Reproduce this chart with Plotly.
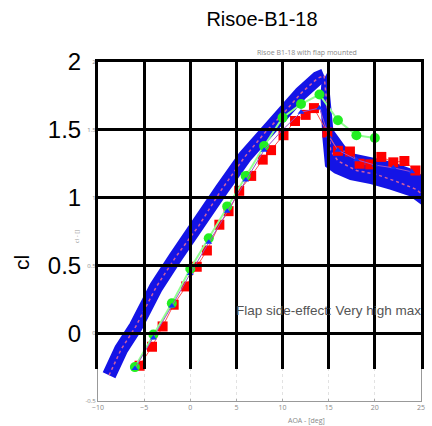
import plotly.graph_objects as go

# ---------------- data ----------------
# blue measurement band, centre of the attached-flow part
blue_aoa = [-8.8, -7.5, -5.9, -3.7, -1.6, 0.9, 3.4, 5.9, 8.1, 10.2, 12.0, 13.8, 14.5]
blue_cl = [-0.31, -0.12, 0.05, 0.34, 0.56, 0.79, 1.06, 1.30, 1.48, 1.63, 1.77, 1.88, 1.90]
# blue measurement band, outline of the stalled part
stall_aoa = [14.2, 14.9, 15.2, 15.5, 17.3, 19.5, 22.0, 24.5, 25.0,
             25.0, 23.8, 21.6, 19.5, 17.3, 15.6, 14.6, 14.3, 14.1]
stall_cl = [1.84, 1.93, 1.72, 1.50, 1.33, 1.30, 1.26, 1.20, 1.17,
            0.95, 1.01, 1.06, 1.10, 1.13, 1.18, 1.23, 1.45, 1.75]
# dotted mean curve through the band
mean_aoa = [-8.8, -7.5, -5.9, -3.7, -1.6, 0.9, 3.4, 5.9, 8.1, 10.2, 12.0, 13.8, 14.5,
            14.9, 15.2, 16.0, 18.0, 20.2, 22.3, 24.5, 25.0]
mean_cl = [-0.31, -0.12, 0.05, 0.34, 0.56, 0.79, 1.06, 1.30, 1.48, 1.63, 1.77, 1.88, 1.90,
           1.62, 1.35, 1.27, 1.20, 1.17, 1.12, 1.06, 1.03]
# red squares
red_aoa = [-5.5, -4.15, -3.0, -1.8, -0.45, 0.7, 1.8, 3.15, 4.15, 5.3, 6.6, 7.85, 8.75,
           10.1, 11.35, 12.5, 13.4, 14.85, 16.0, 17.3, 18.35, 19.5, 20.7, 22.0, 23.2, 24.4]
red_cl = [-0.24, -0.10, 0.05, 0.21, 0.345, 0.49, 0.61, 0.80, 0.90, 1.05, 1.16, 1.28, 1.35,
          1.46, 1.565, 1.61, 1.66, 1.48, 1.345, 1.34, 1.25, 1.245, 1.30, 1.26, 1.27, 1.20]
# green circles
green_aoa = [-6, -4, -2, 0, 2, 4, 6, 8, 10, 12, 14, 16, 18, 20]
green_cl = [-0.25, -0.01, 0.22, 0.475, 0.70, 0.935, 1.16, 1.38, 1.59, 1.69, 1.76, 1.57, 1.46, 1.44]
# blue triangles
tri_aoa = [-6, -4, -2, 0, 2, 4, 6, 8, 10, 12, 14, 15, 16, 18, 20, 22, 24]
tri_cl = [-0.26, -0.035, 0.20, 0.44, 0.67, 0.90, 1.13, 1.35, 1.50, 1.63, 1.66, 1.45,
          1.35, 1.28, 1.24, 1.22, 1.19]

x_ticks = [-10, -5, 0, 5, 10, 15, 20, 25]
y_ticks_inner = [-0.5, 0, 0.5, 1, 1.5, 2]
y_text_inner = ["-0.5", "0", "0.5", "1", "1.5", "2"]
y_ticks_outer = [0, 0.5, 1, 1.5, 2]
y_text_outer = ["0", "0.5", "1", "1.5", "2"]

FONT = "Liberation Sans, Arial, sans-serif"
BLUE = "rgb(20,20,230)"

fig = go.Figure()
fig.add_trace(go.Scatter(x=stall_aoa, y=stall_cl, mode="lines", fill="toself",
                         fillcolor=BLUE, line=dict(width=0, color=BLUE), hoverinfo="skip"))
fig.add_trace(go.Scatter(x=blue_aoa, y=blue_cl, mode="lines",
                         line=dict(color=BLUE, width=14), hoverinfo="skip"))
fig.add_trace(go.Scatter(x=mean_aoa, y=mean_cl, mode="lines",
                         line=dict(color="#d060a0", width=1.5, dash="dot")))
fig.add_trace(go.Scatter(x=red_aoa, y=red_cl, mode="lines+markers",
                         line=dict(color="#ff5050", width=1),
                         marker=dict(symbol="square", size=10, color="#ff0000")))
fig.add_trace(go.Scatter(x=green_aoa, y=green_cl, mode="lines+markers",
                         line=dict(color="#90ff90", width=2),
                         marker=dict(symbol="circle", size=10, color="#22ee22")))
fig.add_trace(go.Scatter(x=tri_aoa, y=tri_cl, mode="lines+markers",
                         line=dict(color="#a050c8", width=1),
                         marker=dict(symbol="triangle-up", size=6, color="#1030ff")))

# outer (black) grid subplot
fig.add_trace(go.Scatter(x=[None], y=[None], xaxis="x2", yaxis="y2", showlegend=False))

dom_bottom = 32 / 339
y2_low = 2 - (339 - 32) * 2.5 / 339

fig.update_layout(
    width=432, height=426,
    margin=dict(l=98, r=7, t=62, b=25),
    paper_bgcolor="white", plot_bgcolor="rgba(0,0,0,0)",
    showlegend=False,
    title=dict(text="Risoe-B1-18", x=262 / 432, xanchor="center", y=1 - 19 / 426,
               yanchor="middle", font=dict(family=FONT, size=20, color="black")),
    xaxis=dict(range=[-10, 25], tickvals=x_ticks, tickfont=dict(size=7, color="#888"),
               ticks="inside", ticklen=2, tickcolor="#aaa",
               showgrid=True, gridcolor="#e2e2e2", griddash="dot", gridwidth=1,
               showline=True, linecolor="#999", linewidth=1, mirror=True, zeroline=False),
    yaxis=dict(range=[-0.5, 2], tickvals=y_ticks_inner, ticktext=y_text_inner,
               tickfont=dict(size=6, color="#888"),
               ticks="inside", ticklen=2, tickcolor="#aaa",
               showgrid=True, gridcolor="#e2e2e2", griddash="dot", gridwidth=1,
               showline=True, linecolor="#999", linewidth=1, mirror=True, zeroline=False),
    xaxis2=dict(anchor="y2", domain=[0, 1], range=[-10, 25], tickvals=x_ticks,
                showticklabels=False, ticks="", side="top",
                showgrid=True, gridcolor="black", gridwidth=3,
                showline=True, linecolor="black", linewidth=3, zeroline=False),
    yaxis2=dict(anchor="x2", domain=[dom_bottom, 1], range=[y2_low, 2],
                tickvals=y_ticks_outer, ticktext=y_text_outer, ticks="",
                tickfont=dict(family=FONT, size=24, color="black"),
                ticklabelstandoff=9,
                showgrid=True, gridcolor="black", gridwidth=3,
                showline=True, linecolor="black", linewidth=3, mirror=True, zeroline=False),
    annotations=[
        dict(text="cl", xref="paper", yref="paper", textangle=-90,
             x=(20 - 98) / 327, y=(401 - 262) / 339, showarrow=False,
             font=dict(family=FONT, size=21, color="black"),
             xanchor="center", yanchor="middle"),
        dict(text="cl - []", xref="paper", yref="paper", textangle=-90,
             x=(77 - 98) / 327, y=(401 - 237) / 339, showarrow=False,
             font=dict(size=6, color="#999"), xanchor="center", yanchor="middle"),
        dict(text="Risoe B1-18 with flap mounted", xref="paper", yref="paper",
             x=(310 - 98) / 327, y=1 + 10 / 339, showarrow=False,
             font=dict(size=7, color="#888"), xanchor="center", yanchor="middle"),
        dict(text="AOA - [deg]", xref="paper", yref="paper",
             x=(309 - 98) / 327, y=-19 / 339, showarrow=False,
             font=dict(size=7, color="#888"), xanchor="center", yanchor="middle"),
        dict(text="Flap side-effect: Very high max", xref="paper", yref="paper",
             x=(236 - 98) / 327, y=(401 - 310) / 339, showarrow=False,
             font=dict(family=FONT, size=13.5, color="#555"), xanchor="left",
             yanchor="middle"),
    ],
)

fig.write_html("out.html")
